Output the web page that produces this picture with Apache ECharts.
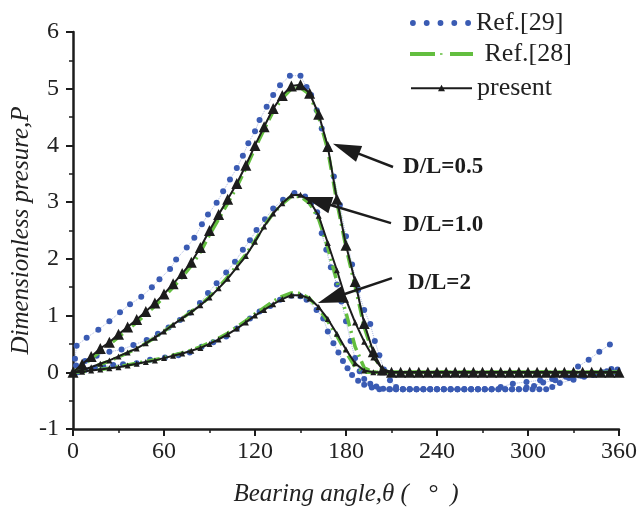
<!DOCTYPE html>
<html><head><meta charset="utf-8">
<script src="https://cdn.jsdelivr.net/npm/echarts@6/dist/echarts.min.js"></script>
<style>html,body{margin:0;padding:0;background:#fff}#c{width:641px;height:512px}</style>
</head><body><div id="c"></div>
<script>
// ---- data ----
const xTicks = [0, 60, 120, 180, 240, 300, 360];
const yTicks = [-1, 0, 1, 2, 3, 4, 5, 6];
const anglesPresent = [0,6,12,18,24,30,36,42,48,54,60,66,72,78,84,90,96,102,108,114,120,126,132,138,144,150,156,162,168,174,180,186,192,198,204,210,216,222,228,234,240,246,252,258,264,270,276,282,288,294,300,306,312,318,324,330,336,342,348,354,360];
const presentDL05 = [0,0.14,0.28,0.42,0.53,0.67,0.8,0.93,1.07,1.22,1.38,1.56,1.74,1.94,2.2,2.5,2.78,3.05,3.33,3.65,4.0,4.33,4.65,4.88,5.05,5.07,4.92,4.55,3.98,3.05,2.24,1.6,0.86,0.36,0.04,0,0,0,0,0,0,0,0,0,0,0,0,0,0,0,0,0,0,0,0,0,0,0,0,0,0];
const presentDL10 = [0,0.04,0.09,0.15,0.21,0.28,0.35,0.42,0.51,0.61,0.72,0.84,0.95,1.06,1.18,1.32,1.48,1.65,1.85,2.05,2.3,2.57,2.8,2.98,3.12,3.13,3.02,2.76,2.28,1.8,1.28,0.88,0.54,0.26,0.06,0,0,0,0,0,0,0,0,0,0,0,0,0,0,0,0,0,0,0,0,0,0,0,0,0,0];
const presentDL20 = [0,0.01,0.03,0.05,0.07,0.09,0.12,0.15,0.18,0.21,0.25,0.29,0.33,0.38,0.43,0.5,0.58,0.67,0.77,0.88,1.0,1.1,1.2,1.29,1.36,1.36,1.3,1.15,0.94,0.68,0.4,0.16,0.03,0,0,0,0,0,0,0,0,0,0,0,0,0,0,0,0,0,0,0,0,0,0,0,0,0,0,0,0];
const ref28DL05 = [0,0.1,0.24,0.37,0.49,0.62,0.75,0.88,1.02,1.17,1.33,1.5,1.68,1.88,2.12,2.42,2.7,2.98,3.27,3.6,3.95,4.28,4.6,4.83,5.0,5.02,4.9,4.5,3.92,3.0,2.2,1.52,0.8,0.3,0.03,0,0,0,0,0,0,0,0,0,0,0,0,0,0,0,0,0,0,0,0,0,0,0,0,0,0];
const ref28DL10 = [0,0.03,0.08,0.14,0.2,0.27,0.34,0.42,0.51,0.61,0.72,0.84,0.95,1.07,1.19,1.33,1.5,1.68,1.88,2.08,2.32,2.58,2.8,2.97,3.1,3.1,2.98,2.7,2.2,1.6,1.05,0.45,0.08,0,0,0,0,0,0,0,0,0,0,0,0,0,0,0,0,0,0,0,0,0,0,0,0,0,0,0,0];
const ref28DL20 = [0,0.01,0.03,0.05,0.07,0.1,0.13,0.16,0.19,0.22,0.26,0.3,0.34,0.39,0.45,0.52,0.6,0.69,0.8,0.91,1.03,1.14,1.25,1.34,1.4,1.39,1.3,1.12,0.9,0.64,0.35,0.1,0,0,0,0,0,0,0,0,0,0,0,0,0,0,0,0,0,0,0,0,0,0,0,0,0,0,0,0,0];
const ref29DL05x = [1.3,2.4,9,16.7,24,31,37.6,45,52,57,64,68,75,80,85,89,94.7,99,103.5,108,112,115.6,120,123,127.7,132,136.5,143,150,154,157,160.7,164,168,172,176,180,184,188,192,196,199,202,205,209,213,217.5,222,226.5,231,235.5,240,244.5,249,253.5,258,262.5,267,271.5,276,282,290,299,308,316,325,333,340,347,354];
const ref29DL05y = [0.24,0.47,0.61,0.75,0.9,1.06,1.2,1.33,1.5,1.64,1.82,1.99,2.2,2.37,2.61,2.78,2.99,3.19,3.4,3.6,3.82,4.04,4.25,4.45,4.68,4.89,5.06,5.23,5.23,5.03,4.89,4.62,4.3,3.95,3.45,2.95,2.4,1.9,1.45,1.1,0.85,0.55,0.3,0.05,-0.14,-0.26,-0.3,-0.3,-0.3,-0.3,-0.3,-0.3,-0.3,-0.3,-0.3,-0.3,-0.3,-0.3,-0.3,-0.3,-0.26,-0.2,-0.17,-0.14,-0.12,-0.08,0.1,0.22,0.36,0.49];
const ref29DL10x = [2,8,15.6,24,32,39.8,48.6,56,63,70.5,77,83.7,89,94.7,101,106.8,112,116.7,121,126.6,132,138.5,146,153,157,161,164,167,170,174,177,180,183,186,189,192,196,200,204.5,209,213,217.5,222,226.5,231,235.5,240,244.5,249,253.5,258,262.5,267,271.5,276,280.5,285,289.5,294,298.5,303,307.5,312,316,321,330,337,343,349,355,359];
const ref29DL10y = [0.12,0.2,0.29,0.36,0.4,0.48,0.57,0.68,0.79,0.92,1.05,1.22,1.4,1.57,1.76,1.95,2.16,2.33,2.51,2.7,2.89,3.04,3.16,3.1,2.98,2.82,2.45,2.16,1.85,1.55,1.25,0.9,0.55,0.25,0.02,-0.12,-0.2,-0.25,-0.29,-0.3,-0.3,-0.3,-0.3,-0.3,-0.3,-0.3,-0.3,-0.3,-0.3,-0.3,-0.3,-0.3,-0.3,-0.3,-0.3,-0.3,-0.3,-0.3,-0.3,-0.3,-0.3,-0.3,-0.3,-0.26,-0.19,-0.13,-0.08,-0.05,0,0.06,0.05];
const ref29DL20x = [3,8,14.5,20,26.5,33,42,50.8,60.6,69.5,77,84.8,92.5,101,108,116.7,123,130,136.5,144,150,154,160.6,165,168,171.7,175,178,181,184,188,192,197,202,208.5,213,217.5,222,226.5,231,235.5,240,244.5,249,253.5,258,262.5,267,271.5,276,280.5,285,289.5,294,299,304,310,318,327,335,344,352,358];
const ref29DL20y = [0,0.04,0.08,0.1,0.13,0.14,0.16,0.22,0.26,0.3,0.35,0.45,0.53,0.63,0.77,0.95,1.07,1.17,1.28,1.35,1.34,1.28,1.1,0.95,0.72,0.51,0.35,0.2,0.07,-0.05,-0.15,-0.22,-0.27,-0.3,-0.3,-0.3,-0.3,-0.3,-0.3,-0.3,-0.3,-0.3,-0.3,-0.3,-0.3,-0.3,-0.3,-0.3,-0.3,-0.3,-0.3,-0.3,-0.3,-0.3,-0.27,-0.24,-0.18,-0.14,-0.1,-0.06,-0.02,0.02,0];
const legendNames = ['Ref.[29]', 'Ref.[28]', 'present'];
const annotLabels = ['D/L=0.5', 'D/L=1.0', 'D/L=2'];
const annotTextPos = [[217.6, 3.62], [217.6, 2.6], [220.9, 1.58]];
const annotTail = [[211, 3.62], [209.7, 2.63], [210.3, 1.66]];
const annotTip = [[171.4, 4.03], [152.3, 3.09], [161.5, 1.22]];

// ---- chart ----
const SERIF = "'Liberation Serif','Times New Roman',serif";
const BLUE = '#3a5bb3', GREEN = '#63be3f', BLACK = '#1c1c1c';
const zip = (xs, ys) => xs.map((x, i) => [x, ys[i]]);
const dotsIcon = 'path://M0,2.75a2.75,2.75 0 1,0 5.5,0a2.75,2.75 0 1,0 -5.5,0M13,2.75a2.75,2.75 0 1,0 5.5,0a2.75,2.75 0 1,0 -5.5,0M26,2.75a2.75,2.75 0 1,0 5.5,0a2.75,2.75 0 1,0 -5.5,0M39,2.75a2.75,2.75 0 1,0 5.5,0a2.75,2.75 0 1,0 -5.5,0M52,2.75a2.75,2.75 0 1,0 5.5,0a2.75,2.75 0 1,0 -5.5,0';
const dashDotIcon = 'path://M0,0L25,0L25,4L0,4Z M30,1.3L32.5,1.3L32.5,2.7L30,2.7Z M40,0L63,0L63,4L40,4Z';
const lineTriIcon = 'path://M0,6.1L61,6.1L61,7.9L0,7.9Z M27,10L30.5,3.5L34,10Z';

function blueSeries(xs, ys) {
  return { name: legendNames[0], type: 'line', data: zip(xs, ys), symbol: 'circle', symbolSize: 6,
    itemStyle: { color: BLUE }, lineStyle: { color: 'rgba(70,100,190,0.45)', width: 1, type: 'dotted' }, z: 2 };
}
function greenSeries(ys) {
  return { name: legendNames[1], type: 'line', data: zip(anglesPresent, ys), showSymbol: false, symbol: 'none',
    itemStyle: { color: GREEN }, lineStyle: { color: GREEN, width: 3.5, type: [13, 5, 2, 5] }, z: 3 };
}
function presentSeries(ys, size) {
  return { name: legendNames[2], type: 'line', data: zip(anglesPresent, ys), symbol: 'triangle', symbolSize: size,
    itemStyle: { color: BLACK }, lineStyle: { color: BLACK, width: 2 }, z: 4 };
}

const axisCommon = {
  axisLine: { show: true, onZero: false, lineStyle: { color: BLACK, width: 2.5 } },
  axisTick: { show: true, inside: false, length: 7, lineStyle: { color: BLACK, width: 2 } },
  minorTick: { show: true, splitNumber: 2, length: 4, lineStyle: { color: BLACK, width: 1.5 } },
  splitLine: { show: false },
  axisLabel: { fontFamily: SERIF, fontSize: 24, color: '#222' },
  nameLocation: 'middle',
  nameMoveOverlap: false,
  nameTextStyle: { fontFamily: SERIF, fontStyle: 'italic', fontSize: 25, color: '#222' }
};

const legendText = { fontFamily: SERIF, fontSize: 26, color: '#222' };
const option = {
  animation: false,
  backgroundColor: '#fff',
  grid: { left: 73, right: 22, top: 32, bottom: 83, containLabel: false, outerBoundsMode: 'none' },
  xAxis: Object.assign({}, axisCommon, {
    type: 'value', min: xTicks[0], max: xTicks[xTicks.length - 1], interval: xTicks[1] - xTicks[0],
    name: 'Bearing angle,θ (   °  )', nameGap: 53,
    axisLabel: Object.assign({}, axisCommon.axisLabel, { margin: 11 })
  }),
  yAxis: Object.assign({}, axisCommon, {
    type: 'value', min: yTicks[0], max: yTicks[yTicks.length - 1], interval: yTicks[1] - yTicks[0],
    name: 'Dimensionless presure,P', nameGap: 39,
    axisLabel: Object.assign({}, axisCommon.axisLabel, { margin: 14 })
  }),
  legend: [
    { data: [{ name: legendNames[0], icon: dotsIcon }], left: 410, top: 10, padding: 0, itemWidth: 61, itemHeight: 6, selectedMode: false, textStyle: legendText },
    { data: [{ name: legendNames[1], icon: dashDotIcon }], left: 410, top: 41, padding: 0, itemWidth: 63, itemHeight: 4, selectedMode: false, formatter: ' {name}', textStyle: legendText },
    { data: [{ name: legendNames[2], icon: lineTriIcon }], left: 411, top: 75, padding: 0, itemWidth: 61, itemHeight: 7, selectedMode: false, textStyle: legendText }
  ],
  series: [
    blueSeries(ref29DL05x, ref29DL05y),
    blueSeries(ref29DL10x, ref29DL10y),
    blueSeries(ref29DL20x, ref29DL20y),
    greenSeries(ref28DL05),
    greenSeries(ref28DL10),
    greenSeries(ref28DL20),
    presentSeries(presentDL10, 6),
    presentSeries(presentDL20, 6),
    presentSeries(presentDL05, 11)
  ]
};

const chart = echarts.init(document.getElementById('c'), null, { renderer: 'canvas' });
chart.setOption(option);

// annotations (arrows + labels), positioned from data coordinates
const graphics = [];
annotLabels.forEach((label, i) => {
  const tp = chart.convertToPixel({ gridIndex: 0 }, annotTextPos[i]);
  const tl = chart.convertToPixel({ gridIndex: 0 }, annotTail[i]);
  const tip = chart.convertToPixel({ gridIndex: 0 }, annotTip[i]);
  const dx = tip[0] - tl[0], dy = tip[1] - tl[1];
  const len = Math.sqrt(dx * dx + dy * dy);
  const ux = dx / len, uy = dy / len;
  const L = 28, W = 8.5;
  const bx = tip[0] - ux * L, by = tip[1] - uy * L;
  graphics.push({ type: 'line', shape: { x1: tl[0], y1: tl[1], x2: bx + ux * 2, y2: by + uy * 2 }, style: { stroke: BLACK, lineWidth: 2.5 }, z: 10 });
  graphics.push({ type: 'polygon', shape: { points: [[tip[0], tip[1]], [bx - uy * W, by + ux * W], [bx + uy * W, by - ux * W]] }, style: { fill: BLACK }, z: 10 });
  graphics.push({ type: 'text', x: tp[0], y: tp[1], style: { text: label, font: "bold 23px " + SERIF, fill: BLACK, align: 'left', verticalAlign: 'middle' }, z: 10 });
});
chart.setOption({ graphic: graphics });
</script>
</body></html>
